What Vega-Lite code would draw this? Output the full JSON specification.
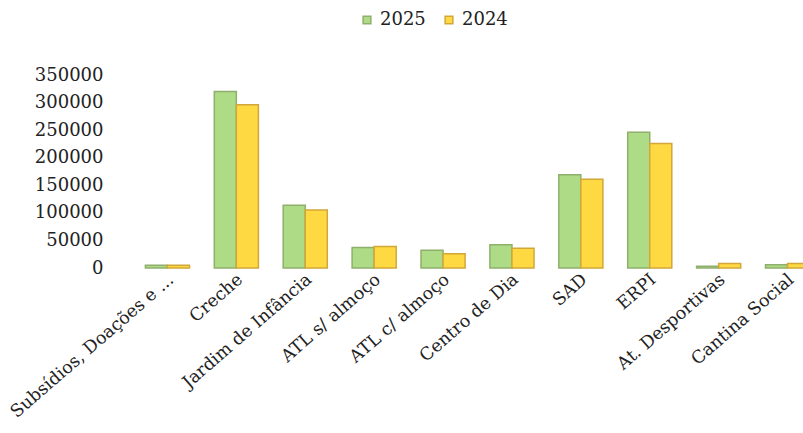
{
  "$schema": "https://vega.github.io/schema/vega-lite/v6.json",
  "autosize": {"type": "none"},
  "width": 689,
  "height": 193,
  "padding": {"left": 133, "top": 75, "right": -19, "bottom": 165},
  "background": "white",
  "config": {
    "view": {"stroke": null},
    "font": "DejaVu Serif",
    "axis": {"labelFont": "DejaVu Serif", "labelColor": "#222", "labelFontSize": 18},
    "legend": {"labelFont": "DejaVu Serif", "labelFontSize": 18, "labelColor": "#222"}
  },
  "data": {
    "values": [
      {"category": "Subsídios, Doações e ...", "year": "2025", "value": 5000},
      {"category": "Subsídios, Doações e ...", "year": "2024", "value": 5000},
      {"category": "Creche", "year": "2025", "value": 320000},
      {"category": "Creche", "year": "2024", "value": 296000},
      {"category": "Jardim de Infância", "year": "2025", "value": 114000},
      {"category": "Jardim de Infância", "year": "2024", "value": 105000},
      {"category": "ATL s/ almoço", "year": "2025", "value": 37000},
      {"category": "ATL s/ almoço", "year": "2024", "value": 39000},
      {"category": "ATL c/ almoço", "year": "2025", "value": 32000},
      {"category": "ATL c/ almoço", "year": "2024", "value": 26000},
      {"category": "Centro de Dia", "year": "2025", "value": 42000},
      {"category": "Centro de Dia", "year": "2024", "value": 36000},
      {"category": "SAD", "year": "2025", "value": 169000},
      {"category": "SAD", "year": "2024", "value": 161000},
      {"category": "ERPI", "year": "2025", "value": 246000},
      {"category": "ERPI", "year": "2024", "value": 226000},
      {"category": "At. Desportivas", "year": "2025", "value": 3000},
      {"category": "At. Desportivas", "year": "2024", "value": 8000},
      {"category": "Cantina Social", "year": "2025", "value": 6000},
      {"category": "Cantina Social", "year": "2024", "value": 8000}
    ]
  },
  "mark": {"type": "bar", "strokeWidth": 1.5},
  "encoding": {
    "x": {
      "field": "category",
      "type": "nominal",
      "sort": null,
      "title": null,
      "scale": {"paddingInner": 0.36, "paddingOuter": 0.18},
      "axis": {"labelAngle": -41, "labelAlign": "right", "labelBaseline": "middle", "labelPadding": 9, "labelOffset": 4, "ticks": false, "domain": false, "labelFontSize": 17.5, "labelLimit": 300}
    },
    "xOffset": {"field": "year", "type": "nominal", "sort": ["2025", "2024"]},
    "y": {
      "field": "value",
      "type": "quantitative",
      "title": null,
      "scale": {"domain": [0, 350000], "nice": false},
      "axis": {"values": [0, 50000, 100000, 150000, 200000, 250000, 300000, 350000], "format": "d", "grid": false, "domain": false, "ticks": false, "labelPadding": 30}
    },
    "color": {
      "field": "year",
      "type": "nominal",
      "sort": ["2025", "2024"],
      "scale": {"domain": ["2025", "2024"], "range": ["#addb86", "#ffd942"]},
      "legend": {"title": null, "orient": "none", "legendX": 225, "legendY": -64, "direction": "horizontal", "symbolType": "square", "symbolSize": 60, "columnPadding": 14, "labelOffset": 4}
    },
    "stroke": {
      "field": "year",
      "type": "nominal",
      "scale": {"domain": ["2025", "2024"], "range": ["#8fb06c", "#d2a73a"]},
      "legend": null
    }
  }
}
